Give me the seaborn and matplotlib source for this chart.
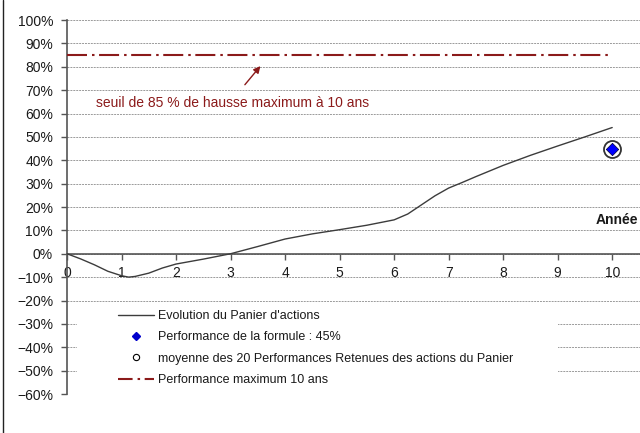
import matplotlib
matplotlib.use('Agg')
import matplotlib.pyplot as plt
import seaborn as sns
from matplotlib.lines import Line2D
from matplotlib.patches import Rectangle
from matplotlib.ticker import PercentFormatter, MultipleLocator

# Données
annees = [0, 0.25, 0.5, 0.75, 1, 1.13, 1.25, 1.5, 1.75, 2, 2.5, 3, 3.5, 4, 4.5, 5, 5.5,
          6, 6.25, 6.5, 6.75, 7, 7.25, 7.5, 8, 8.5, 9, 9.5, 10]
panier = [0.0, -0.022, -0.047, -0.075, -0.094, -0.1, -0.097, -0.083, -0.061, -0.044,
          -0.023, 0.0, 0.031, 0.063, 0.085, 0.103, 0.122, 0.145, 0.17, 0.209, 0.248,
          0.281, 0.305, 0.33, 0.378, 0.421, 0.461, 0.5, 0.54]
annee_formule = [10]
perf_formule = [0.45]
seuil_x = [0, 10]
seuil_y = [0.85, 0.85]
annee_ticks = list(range(0, 11))

sns.set_style('white')
plt.rcParams['font.family'] = ['Liberation Sans', 'DejaVu Sans']

rouge = '#8b1a1a'
gris = '#3c3c3c'

fig = plt.figure(figsize=(6.4, 4.33), dpi=100)
ax = fig.add_axes([67 / 640, 1 - 394 / 433, 573 / 640, 374 / 433])

# Courbe du panier
sns.lineplot(x=annees, y=panier, ax=ax, color=gris, linewidth=1.0, zorder=4)

# Seuil 85 %
ax.plot(seuil_x, seuil_y, color=rouge, linewidth=1.5, dashes=(9.6, 2.4, 1.2, 2.2), zorder=4)

# Performance de la formule (cercle + losange)
sns.scatterplot(x=annee_formule, y=perf_formule, ax=ax, marker='o', s=150,
                facecolor='white', edgecolor='#333333', linewidth=1.3, zorder=5)
sns.scatterplot(x=annee_formule, y=perf_formule, ax=ax, marker='D', s=40,
                color='#0000ff', edgecolor='#000033', linewidth=0.5, zorder=6)

ax.set_xlim(0, 10.51)
ax.set_ylim(-0.6, 1.0)
ax.yaxis.set_major_locator(MultipleLocator(0.1))
ax.yaxis.set_major_formatter(PercentFormatter(1.0, decimals=0))
ax.set_xticks(annee_ticks)

ax.grid(axis='y', color='#9a9a9a', linestyle=(0, (2, 1)), linewidth=0.7)
ax.set_axisbelow(True)

for s in ['top', 'right']:
    ax.spines[s].set_visible(False)
ax.spines['left'].set_color('#555555')
ax.spines['left'].set_linewidth(1.2)
ax.spines['bottom'].set_position(('data', 0))
ax.spines['bottom'].set_color('#555555')
ax.spines['bottom'].set_linewidth(1.2)
ax.spines['bottom'].set_zorder(3)

ax.tick_params(axis='y', which='major', left=True, length=4, width=1, color='#555555',
               labelsize=10, labelcolor='#1a1a1a', pad=6)
ax.tick_params(axis='x', which='major', bottom=True, length=4, width=1, color='#555555',
               labelsize=10, labelcolor='#1a1a1a', pad=5, direction='out')

ax.text(10.48, 0.143, 'Année', ha='right', va='center', fontsize=10,
        fontweight='bold', color='#1a1a1a')

ax.annotate('', xy=(3.58, 0.812), xytext=(3.23, 0.714),
            arrowprops=dict(arrowstyle='-|>', color=rouge, lw=1.0, mutation_scale=10))
ax.text(0.53, 0.645, 'seuil de 85 % de hausse maximum à 10 ans', ha='left', va='center',
        fontsize=10, color=rouge)

# fond blanc de la légende
ax.add_patch(Rectangle((0.18, -0.58), 8.82, 0.36, facecolor='white', edgecolor='none', zorder=2))

handles = [
    Line2D([], [], color=gris, linewidth=1.0),
    Line2D([], [], color='#0000cc', marker='D', markersize=4, linestyle='none'),
    Line2D([], [], color='black', marker='o', markersize=4.5, markerfacecolor='white',
           markeredgewidth=0.8, linestyle='none'),
    Line2D([], [], color=rouge, linewidth=1.5, dashes=(7, 2.4, 1.2, 2.2)),
]
labels = [
    "Evolution du Panier d'actions",
    'Performance de la formule : 45%',
    'moyenne des 20 Performances Retenues des actions du Panier',
    'Performance maximum 10 ans',
]
leg = ax.legend(handles, labels, loc='upper left', bbox_to_anchor=(0.0803, 0.238),
                frameon=False, fontsize=9, handlelength=2.88, handletextpad=0.3,
                labelspacing=0.75, borderaxespad=0)
for t in leg.get_texts():
    t.set_color('#1a1a1a')

# bord gauche du cadre
fig.add_artist(Line2D([2.5 / 640, 2.5 / 640], [0, 1], color='#222222', linewidth=1.0))

fig.savefig('out.png', dpi=100)
